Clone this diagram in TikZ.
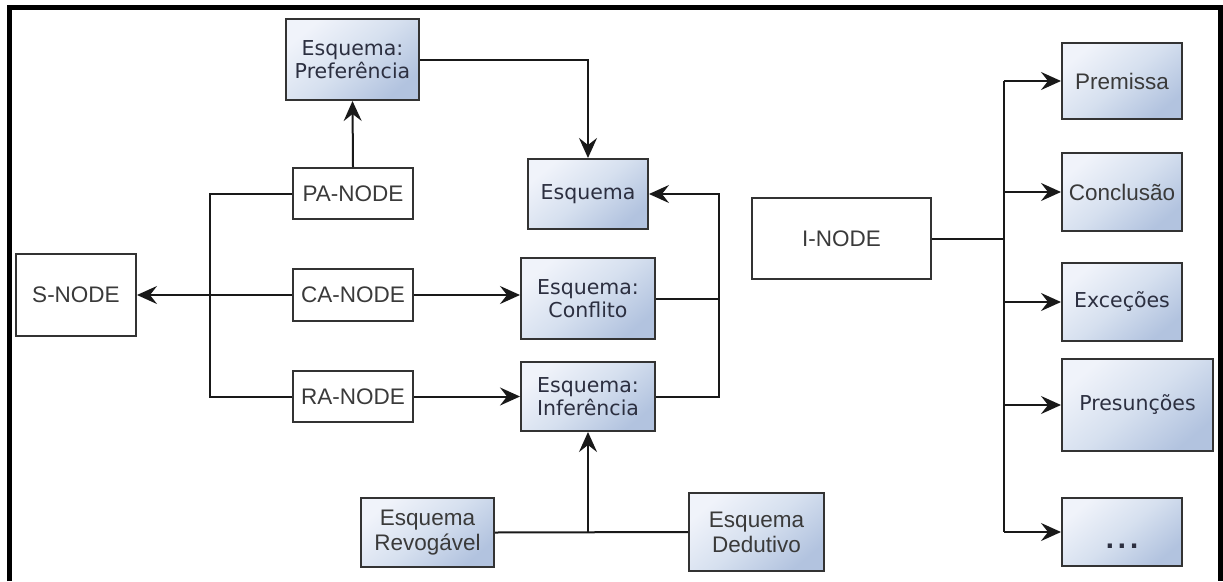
\documentclass[tikz,border=0pt]{standalone}
\usepackage{fontspec}
\setmainfont{Liberation Sans}
\newfontfamily\vfont{DejaVu Sans}
\usetikzlibrary{arrows.meta}

\definecolor{boxline}{HTML}{333333}
\definecolor{gradlight}{HTML}{F0F3FA}
\definecolor{gradmid}{HTML}{D6E0EF}
\definecolor{graddark}{HTML}{B2C3DF}
\definecolor{textgray}{HTML}{3A3A3A}
\definecolor{textnavy}{HTML}{2C2F40}

\tikzset{
  plainbox/.style={draw=boxline, line width=2pt, fill=white, inner sep=0pt,
    text=textgray, font=\fontsize{22.5}{25}\selectfont, align=center},
  schemebox/.style={draw=boxline, line width=2pt, inner sep=0pt,
    top color=gradlight, bottom color=graddark, middle color=gradmid,
    shading angle=40,
    text=textnavy, font=\vfont\fontsize{20.5}{23}\selectfont, align=center},
  schemearial/.style={schemebox, font=\fontsize{22.5}{25}\selectfont, text=textgray},
  link/.style={line width=2pt, draw=black!90},
  arr/.style={link, -{Stealth[length=20pt 0 0, width=18pt 0 0, inset=7pt 0 0]}},
}

\begin{document}
\begin{tikzpicture}[x=1pt, y=-1pt]
  \useasboundingbox (0,0) rectangle (1223,581);

  % outer frame (left, top and right sides)
  \draw[line width=5pt, line join=miter] (9.5,581) -- (9.5,7.5) -- (1220.5,7.5) -- (1220.5,581);

  % argument side
  \node[schemebox, minimum width=133pt, minimum height=81pt] (pref) at (352.5,59.5) {Esquema:\\Preferência};
  \node[plainbox, minimum width=120pt, minimum height=51pt] (pa) at (353,193.5) {PA-NODE};
  \node[plainbox, minimum width=120pt, minimum height=82pt] (sn) at (76,295) {S-NODE};
  \node[plainbox, minimum width=120pt, minimum height=52pt] (ca) at (353,295) {CA-NODE};
  \node[plainbox, minimum width=120pt, minimum height=51pt] (ra) at (353,396.5) {RA-NODE};

  \node[schemebox, minimum width=120pt, minimum height=70pt] (esq) at (588,194) {Esquema};
  \node[schemebox, minimum width=134pt, minimum height=81pt] (conf) at (588,298.5) {Esquema:\\Conflito};
  \node[schemebox, minimum width=134pt, minimum height=69pt] (inf) at (588,396.5) {Esquema:\\Inferência};

  \node[schemearial, minimum width=133pt, minimum height=69pt] (rev) at (427.5,532.5) {Esquema\\Revogável};
  \node[schemearial, minimum width=135pt, minimum height=78pt] (ded) at (756.5,532) {Esquema\\Dedutivo};

  % information side
  \node[plainbox, minimum width=179pt, minimum height=81pt] (inode) at (841.5,238.5) {I-NODE};
  \node[schemearial, minimum width=120pt, minimum height=76pt] (prem) at (1122,81) {Premissa};
  \node[schemearial, minimum width=120pt, minimum height=78pt] (concl) at (1122,192) {Conclusão};
  \node[schemebox, minimum width=120pt, minimum height=78pt] (exc) at (1122,302) {Exceções};
  \node[schemebox, minimum width=151pt, minimum height=92pt] (pres) at (1137.5,405) {Presunções};
  \node[schemebox, minimum width=120pt, minimum height=68pt, text=textnavy] (dots) at (1122,532)
    {\smash{\raisebox{-16pt}{\fontsize{24}{24}\selectfont\bfseries .\kern3pt.\kern3pt.}}};

  % junction points
  \coordinate (lj) at (210,0);
  \coordinate (rj) at (719,194);
  \coordinate (ij) at (1004,238.5);

  % connectors, left part
  \draw[arr] (pa.north) -- (pref.south);
  \draw[arr] (pref.east) -| (esq.north);
  \draw[link] (pa.west) -| (lj |- ra.west) -- (ra.west);
  \draw[arr] (ca.west) -- (sn.east);
  \draw[arr] (ca.east) -- (conf.west |- ca.east);
  \draw[arr] (ra.east) -- (inf.west);
  \draw[link] (conf.east) -- (conf.east -| rj);
  \draw[arr] (inf.east) -| (rj) -- (esq.east);
  \draw[link] (rev.east) -- (ded.west);
  \draw[arr] (rev.east -| inf.south) -- (inf.south);

  % connectors, right part
  \draw[link] (inode.east) -- (ij);
  \draw[link] (ij |- prem.west) -- (ij |- dots.west);
  \draw[arr] (ij |- prem.west) -- (prem.west);
  \draw[arr] (ij |- concl.west) -- (concl.west);
  \draw[arr] (ij |- exc.west) -- (exc.west);
  \draw[arr] (ij |- pres.west) -- (pres.west);
  \draw[arr] (ij |- dots.west) -- (dots.west);
\end{tikzpicture}
\end{document}
